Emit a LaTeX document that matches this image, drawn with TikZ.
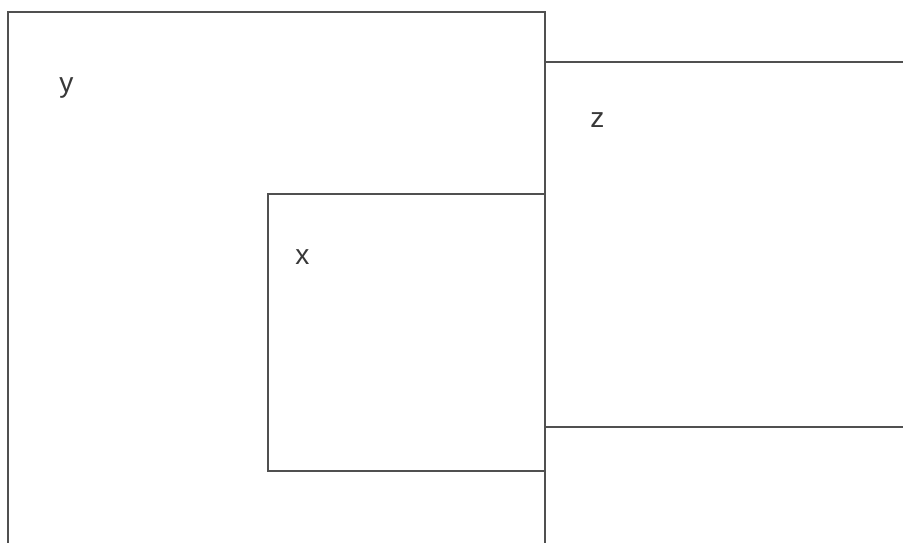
\documentclass[tikz,border=0pt]{standalone}
\usepackage{fontspec}
\setmainfont{Liberation Sans}
\usetikzlibrary{positioning}
\definecolor{lngray}{HTML}{505050}
\definecolor{txgray}{HTML}{383838}

\begin{document}
\begin{tikzpicture}[
  x=0.02cm, y=-0.02cm,
  region/.style={draw=lngray, line width=0.6pt},
  setlabel/.style={anchor=base west, inner sep=0pt,
    font=\fontsize{16}{19}\selectfont, text=txgray}
]
  \useasboundingbox (0,0) rectangle (903,543);
  \clip (0,0) rectangle (903,543);

  % --- Set y (runs past the bottom) ---
  \draw[region] (8,560) -- (8,12) -- (545,12) -- (545,560);

  % --- Set z (runs past the right) ---
  \draw[region] (920,62) -- (545,62);
  \draw[region] (545,427) -- (920,427);

  % --- Set x ---
  \draw[region] (268,194) rectangle (545,471);

  % Labels
  \node[setlabel] (ylab) at (59,93) {y};
  \node[setlabel] (zlab) at (590,128) {z};
  \node[setlabel] (xlab) at (295,265) {x};

\end{tikzpicture}
\end{document}
